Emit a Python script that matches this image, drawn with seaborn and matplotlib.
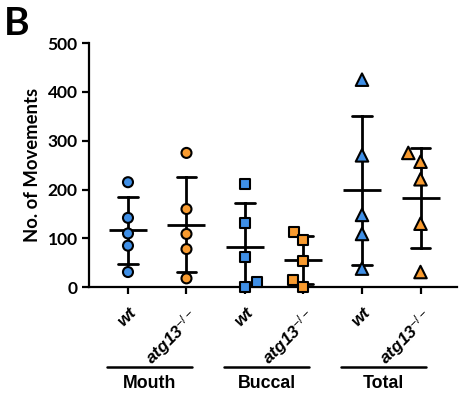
import matplotlib
matplotlib.use("Agg")
import matplotlib.pyplot as plt
import matplotlib.transforms as mtransforms
import pandas as pd
import seaborn as sns

groups = ["Mouth", "Buccal", "Total"]
genotypes = ["wt", "atg13"]
markers = {"Mouth": "o", "Buccal": "s", "Total": "^"}
sizes = {"Mouth": 7.2, "Buccal": 7.2, "Total": 9}

mouth_wt = [215, 142, 110, 85, 31]
mouth_atg13 = [275, 160, 109, 78, 18]
buccal_wt = [212, 131, 62, 0, 10]
buccal_atg13 = [113, 96, 53, 15, 0]
total_wt = [425, 270, 148, 109, 38]
total_atg13 = [275, 257, 221, 130, 31]

values = {
    ("Mouth", "wt"): mouth_wt,
    ("Mouth", "atg13"): mouth_atg13,
    ("Buccal", "wt"): buccal_wt,
    ("Buccal", "atg13"): buccal_atg13,
    ("Total", "wt"): total_wt,
    ("Total", "atg13"): total_atg13,
}

rows = []
for (g, gt), vals in values.items():
    for v in vals:
        rows.append({"group": g, "genotype": gt, "cond": g + " " + gt, "value": v})
df = pd.DataFrame(rows)
order = [g + " " + gt for g in groups for gt in genotypes]
palette = {"wt": "#3f8fe6", "atg13": "#f99b2f"}

sns.set_style("ticks")
plt.rcParams["font.family"] = ["Lato", "DejaVu Sans"]
plt.rcParams["text.color"] = "black"
plt.rcParams["axes.labelcolor"] = "black"
plt.rcParams["axes.edgecolor"] = "black"
plt.rcParams["xtick.color"] = "black"
plt.rcParams["ytick.color"] = "black"
plt.rcParams["mathtext.fontset"] = "custom"
plt.rcParams["mathtext.rm"] = "Liberation Sans"
plt.rcParams["mathtext.it"] = "Liberation Sans:italic:bold"
plt.rcParams["mathtext.bf"] = "Liberation Sans:bold"

fig = plt.figure(figsize=(4.6, 3.95), dpi=100)
ax = fig.add_axes([0.193, 0.273, 0.80, 0.618])

# mean +/- SD
sns.pointplot(data=df, x="cond", y="value", order=order, errorbar="sd",
              capsize=0.33, marker="_", markersize=28, markeredgewidth=2,
              linestyle="none", color="black", err_kws={"linewidth": 2},
              ax=ax, zorder=2)

for g in groups:
    sub = df[df["group"] == g]
    sns.swarmplot(data=sub, x="cond", y="value", order=order, hue="genotype",
                  palette=palette, marker=markers[g], size=sizes[g],
                  edgecolor="black", linewidth=1.5, legend=False, ax=ax,
                  zorder=3)

# let markers sitting on zero overlap the axis
for coll in ax.collections:
    if len(coll.get_offsets()) > 0:
        coll.set_clip_on(False)

ax.set_xlim(-0.67, 5.62)
ax.set_ylim(0, 500)
ax.set_yticks(range(0, 501, 100))
ax.set_yticklabels([str(v) for v in range(0, 501, 100)], fontsize=12.5, fontweight="bold")
ax.set_xticks(range(len(order)))
ax.set_xticklabels(["wt", r"atg13$^{-/-}$"] * 3, rotation=45, ha="right",
                   rotation_mode="anchor", fontstyle="italic", fontweight="bold",
                   family="Liberation Sans", fontsize=12.5)
ax.set_xlabel("")
ax.set_ylabel("No. of Movements", fontsize=13.3, fontweight="bold", labelpad=5)
for side in ["top", "right"]:
    ax.spines[side].set_visible(False)
for side in ["left", "bottom"]:
    ax.spines[side].set_linewidth(1.6)
ax.tick_params(width=1.6, length=5, colors="black", pad=3)
ax.tick_params(axis="x", pad=8)

trans = mtransforms.blended_transform_factory(ax.transData, ax.transAxes)
for i, g in enumerate(groups):
    x0 = 2 * i - 0.36
    x1 = 2 * i + 1.1
    ax.plot([x0, x1], [-0.328, -0.328], color="black", lw=1.8,
            transform=trans, clip_on=False)
    ax.text((x0 + x1) / 2, -0.36, g, transform=trans, ha="center", va="top",
            fontsize=12.8, fontweight="bold", family="Liberation Sans")

fig.text(0.008, 0.985, "B", fontsize=28, fontweight="bold", va="top", ha="left")

fig.savefig("out.png", dpi=100)
